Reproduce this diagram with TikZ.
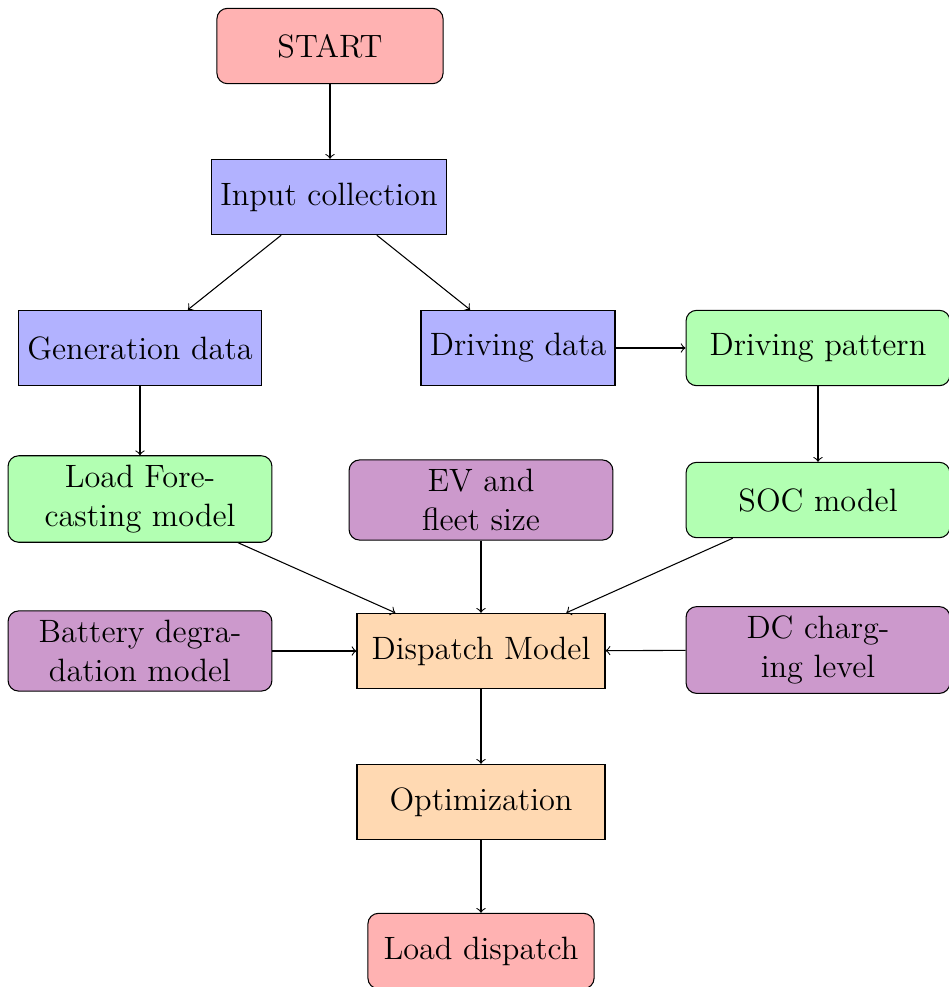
\documentclass[tikz,border=0pt]{standalone}
\begin{document}
\begin{tikzpicture}[x=0.3774pt,y=-0.3774pt,
  base/.style={draw, font=\fontsize{12.2pt}{15pt}\selectfont, align=center, minimum height=1cm},
  startstop/.style={base, rounded corners, fill=red!30, minimum width=3cm},
  inbox/.style={base, fill=blue!30},
  procbox/.style={base, fill=orange!30, minimum width=93.6pt},
  greenbox/.style={base, rounded corners, fill=green!30, minimum width=3.5cm},
  violetbox/.style={base, rounded corners, fill=violet!40, minimum width=3.5cm},
  arrow/.style={->}]
\useasboundingbox (0,0) rectangle (949,987);
\node[startstop] (start) at (330,46) {START};
\node[inbox] (input) at (329,197) {Input collection};
\node[inbox] (gen) at (140,348) {Generation data};
\node[inbox] (drive) at (518,348) {Driving data};
\node[greenbox] (pattern) at (818,348) {Driving pattern};
\node[greenbox] (lf) at (140,499) {Load Fore-\\casting model};
\node[violetbox] (ev) at (481,500) {EV and\\fleet size};
\node[greenbox] (soc) at (818,500) {SOC model};
\node[violetbox] (batt) at (140,651) {Battery degra-\\dation model};
\node[procbox] (disp) at (481,651) {Dispatch Model};
\node[violetbox] (dc) at (818,650) {DC charg-\\ing level};
\node[procbox] (opt) at (481,802) {Optimization};
\node[startstop] (ld) at (481,951) {Load dispatch};
\draw[arrow] (start) -- (start |- input.north);
\draw[arrow] (input) -- (gen);
\draw[arrow] (input) -- (drive);
\draw[arrow] (drive) -- (pattern);
\draw[arrow] (gen) -- (lf);
\draw[arrow] (pattern) -- (soc);
\draw[arrow] (lf) -- (disp);
\draw[arrow] (ev) -- (disp);
\draw[arrow] (soc) -- (disp);
\draw[arrow] (batt) -- (disp);
\draw[arrow] (dc) -- (disp);
\draw[arrow] (disp) -- (opt);
\draw[arrow] (opt) -- (ld);
\end{tikzpicture}
\end{document}
